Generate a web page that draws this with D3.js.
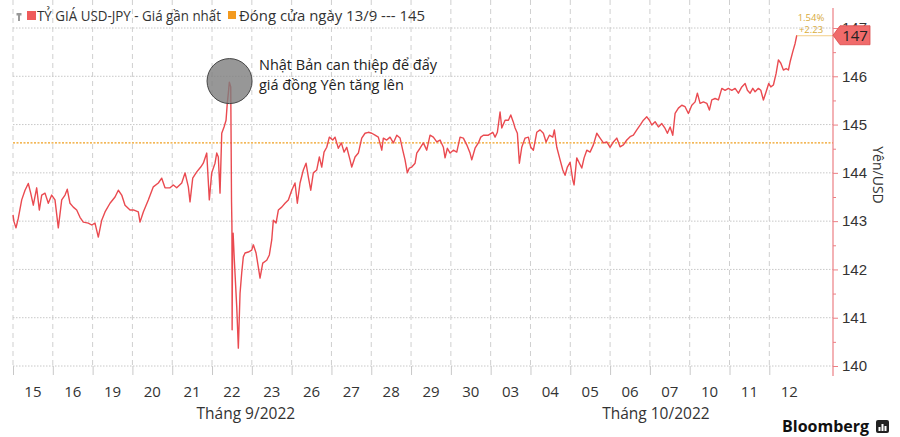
<!DOCTYPE html>
<html>
<head>
<meta charset="utf-8">
<script src="https://cdn.jsdelivr.net/npm/d3@7"></script>
<style>
    body { margin: 0; background: #fff; }
    svg { display: block; font-family: "Open Sans", "Noto Sans", sans-serif; }
    .tick text { fill: #333; }
</style>
</head>
<body>
<svg width="900" height="437"></svg>
<script>
// Trading days shown on the bottom axis (one slot each)
const dayLabels = ["15", "16", "19", "20", "21", "22", "23", "26", "27", "28", "29", "30",
                   "03", "04", "05", "06", "07", "10", "11", "12"];
const monthLabels = ["Tháng 9/2022", "Tháng 10/2022"];
const monthOfDay = [0, 0, 0, 0, 0, 0, 0, 0, 0, 0, 0, 0, 1, 1, 1, 1, 1, 1, 1, 1];

const yTicks = [140, 141, 142, 143, 144, 145, 146, 147];

// Close on 13/9 and last move
const closeSep13 = 144.62;
const lastChangePct = "1.54%";
const lastChangeAbs = "+2.23";
const lastLabel = "147";

// USD-JPY intraday: [trading-day position, price]
const usdJpy = [
    [0.000, 143.13], [0.025, 142.99], [0.075, 142.86], [0.133, 143.06], [0.219, 143.44],
    [0.302, 143.64], [0.384, 143.78], [0.445, 143.58], [0.510, 143.33], [0.595, 143.69],
    [0.661, 143.23], [0.721, 143.54], [0.804, 143.58], [0.887, 143.37], [0.972, 143.54],
    [1.055, 143.44], [1.138, 142.86], [1.224, 143.44], [1.307, 143.54], [1.364, 143.66],
    [1.432, 143.37], [1.515, 143.29], [1.600, 143.23], [1.683, 143.08], [1.766, 142.98],
    [1.892, 142.96], [1.977, 142.92], [2.060, 142.96], [2.143, 142.67], [2.229, 143.02],
    [2.312, 143.19], [2.437, 143.37], [2.563, 143.50], [2.646, 143.64], [2.731, 143.54],
    [2.814, 143.33], [2.940, 143.23], [3.040, 143.23], [3.148, 143.19], [3.191, 142.98],
    [3.274, 143.19], [3.399, 143.44], [3.525, 143.71], [3.651, 143.79], [3.736, 143.89],
    [3.819, 143.69], [3.945, 143.69], [4.028, 143.75], [4.113, 143.69], [4.239, 143.79],
    [4.322, 144.00], [4.405, 143.71], [4.447, 143.40], [4.515, 143.89], [4.616, 144.02],
    [4.716, 144.12], [4.781, 144.20], [4.867, 144.41], [4.932, 143.44], [4.992, 144.00],
    [5.075, 144.20], [5.118, 144.41], [5.158, 144.33], [5.201, 143.58], [5.244, 144.82],
    [5.302, 144.95], [5.352, 145.09], [5.384, 145.45], [5.410, 145.65], [5.435, 145.88],
    [5.470, 145.78], [5.490, 143.40], [5.500, 142.90], [5.505, 140.75], [5.515, 142.46],
    [5.530, 142.75], [5.560, 142.20], [5.621, 141.22], [5.661, 140.37], [5.704, 141.51],
    [5.746, 141.93], [5.786, 142.26], [5.829, 142.34], [5.912, 142.36], [5.997, 142.40],
    [6.038, 142.51], [6.106, 142.34], [6.163, 142.05], [6.206, 141.82], [6.274, 142.13],
    [6.374, 142.19], [6.440, 142.30], [6.500, 142.61], [6.540, 143.02], [6.608, 142.96],
    [6.666, 143.23], [6.751, 143.29], [6.834, 143.37], [6.917, 143.44], [7.003, 143.64],
    [7.085, 143.79], [7.143, 143.37], [7.211, 143.79], [7.294, 144.06], [7.362, 144.20],
    [7.420, 143.91], [7.480, 143.64], [7.545, 144.00], [7.631, 144.06], [7.696, 144.33],
    [7.756, 144.12], [7.814, 144.43], [7.882, 144.53], [7.947, 144.74], [8.033, 144.68],
    [8.090, 144.74], [8.173, 144.51], [8.249, 144.62], [8.317, 144.43], [8.384, 144.53],
    [8.467, 144.27], [8.510, 144.12], [8.593, 144.33], [8.676, 144.41], [8.761, 144.72],
    [8.844, 144.82], [8.927, 144.84], [9.013, 144.82], [9.095, 144.78], [9.178, 144.74],
    [9.264, 144.47], [9.304, 144.72], [9.389, 144.68], [9.472, 144.74], [9.555, 144.62],
    [9.641, 144.78], [9.724, 144.72], [9.791, 144.47], [9.849, 144.27], [9.907, 144.00],
    [9.957, 144.10], [10.018, 144.12], [10.101, 144.20], [10.143, 144.41], [10.226, 144.51],
    [10.309, 144.62], [10.394, 144.47], [10.477, 144.78], [10.560, 144.74], [10.646, 144.64],
    [10.729, 144.68], [10.812, 144.53], [10.854, 144.31], [10.912, 144.51], [10.980, 144.41],
    [11.063, 144.47], [11.148, 144.43], [11.231, 144.74], [11.314, 144.72], [11.399, 144.58],
    [11.482, 144.41], [11.525, 144.27], [11.608, 144.51], [11.691, 144.62], [11.751, 144.74],
    [11.817, 144.78], [11.942, 144.78], [12.053, 144.84], [12.111, 144.74], [12.168, 144.84],
    [12.236, 145.26], [12.279, 144.93], [12.362, 145.09], [12.445, 145.09], [12.505, 145.20],
    [12.570, 145.05], [12.613, 144.93], [12.671, 144.82], [12.721, 144.20], [12.781, 144.53],
    [12.864, 144.72], [12.947, 144.74], [13.008, 144.53], [13.073, 144.47], [13.158, 144.84],
    [13.241, 144.89], [13.324, 144.82], [13.392, 144.64], [13.475, 144.78], [13.560, 144.74],
    [13.600, 144.89], [13.661, 144.53], [13.744, 144.27], [13.812, 144.06], [13.869, 143.95],
    [13.927, 144.12], [13.995, 144.22], [14.063, 143.85], [14.095, 143.75], [14.163, 144.31],
    [14.229, 144.20], [14.289, 144.10], [14.347, 144.31], [14.415, 144.47], [14.497, 144.43],
    [14.580, 144.58], [14.666, 144.82], [14.749, 144.72], [14.832, 144.62], [14.917, 144.64],
    [15.000, 144.53], [15.083, 144.64], [15.168, 144.72], [15.251, 144.54], [15.334, 144.58],
    [15.420, 144.68], [15.503, 144.75], [15.585, 144.78], [15.671, 144.89], [15.754, 144.99],
    [15.837, 145.09], [15.922, 145.16], [15.987, 145.09], [16.048, 144.99], [16.131, 145.06],
    [16.214, 144.95], [16.299, 145.02], [16.382, 144.92], [16.440, 144.82], [16.508, 144.95],
    [16.575, 144.78], [16.633, 145.23], [16.716, 145.34], [16.801, 145.40], [16.884, 145.37],
    [16.967, 145.23], [17.053, 145.40], [17.136, 145.47], [17.193, 145.65], [17.261, 145.44],
    [17.344, 145.47], [17.430, 145.44], [17.495, 145.30], [17.555, 145.51], [17.638, 145.54],
    [17.721, 145.51], [17.807, 145.75], [17.889, 145.71], [17.972, 145.75], [18.058, 145.71],
    [18.141, 145.75], [18.224, 145.65], [18.309, 145.78], [18.392, 145.85], [18.450, 145.71],
    [18.518, 145.65], [18.585, 145.75], [18.643, 145.68], [18.726, 145.75], [18.786, 145.71],
    [18.852, 145.51], [18.920, 145.68], [18.985, 145.85], [19.038, 145.78], [19.103, 145.82],
    [19.171, 146.06], [19.229, 146.34], [19.289, 146.27], [19.354, 146.13], [19.422, 146.16],
    [19.480, 146.13], [19.523, 146.30], [19.590, 146.51], [19.648, 146.68], [19.691, 146.85]
];

const svg = d3.select("svg");
const axisX = 833;

const x = d3.scaleLinear().domain([0, 20.6]).range([13, axisX]);
const y = d3.scaleLinear().domain([140, 147]).range([366, 28]);

// Vertical dashed grid at day boundaries
svg.append("g")
    .attr("stroke", "#cfcfcf")
    .attr("stroke-dasharray", "5,4")
    .selectAll("line")
    .data(d3.range(dayLabels.length))
    .join("line")
    .attr("x1", d => x(d))
    .attr("x2", d => x(d))
    .attr("y1", 0)
    .attr("y2", y(140));

// Horizontal dotted grid
svg.append("g")
    .attr("stroke", "#c8c8c8")
    .attr("stroke-dasharray", "1.5,1.5")
    .selectAll("line")
    .data(yTicks)
    .join("line")
    .attr("x1", x(0))
    .attr("x2", axisX)
    .attr("y1", d => y(d))
    .attr("y2", d => y(d));

// Bottom axis: boundary ticks + day labels
const gx = svg.append("g")
    .attr("transform", `translate(0,${y(140)})`)
    .call(d3.axisBottom(x).tickValues(d3.range(dayLabels.length)).tickSize(9).tickFormat(""));
gx.select(".domain").remove();
gx.selectAll(".tick line").attr("stroke", "#c8c8c8");

svg.append("g")
    .selectAll("text")
    .data(dayLabels)
    .join("text")
    .attr("x", (d, i) => x(i + 0.5))
    .attr("y", 397)
    .attr("text-anchor", "middle")
    .style("font-size", "15px")
    .style("fill", "#333")
    .text(d => d);

// Month labels centred under their days
monthLabels.forEach((label, m) => {
    const idx = d3.range(dayLabels.length).filter(i => monthOfDay[i] === m);
    const cx = (x(d3.min(idx) + 0.5) + x(d3.max(idx) + 0.5)) / 2;
    svg.append("text")
        .attr("x", cx + (m === 0 ? -6 : 6))
        .attr("y", 419)
        .attr("text-anchor", "middle")
        .style("font-size", "15.5px")
        .style("fill", "#333")
        .text(label);
});

// Close line 13/9
svg.append("line")
    .attr("x1", x(0))
    .attr("x2", axisX)
    .attr("y1", y(closeSep13))
    .attr("y2", y(closeSep13))
    .attr("stroke", "#f0a020")
    .attr("stroke-width", 1.3)
    .attr("stroke-dasharray", "2,1.5");

// Price line
svg.append("path")
    .datum(usdJpy)
    .attr("fill", "none")
    .attr("stroke", "#ea4a50")
    .attr("stroke-width", 1.4)
    .attr("stroke-linejoin", "round")
    .attr("d", d3.line().x(d => x(d[0])).y(d => y(d[1])));

const last = usdJpy[usdJpy.length - 1];

// Level line from last point to axis
svg.append("line")
    .attr("x1", x(last[0]))
    .attr("x2", axisX)
    .attr("y1", y(last[1]) + 0.5)
    .attr("y2", y(last[1]) + 0.5)
    .attr("stroke", "#f3cf8a")
    .attr("stroke-width", 1);

svg.append("text")
    .attr("x", 811)
    .attr("y", 21)
    .attr("text-anchor", "middle")
    .style("font-size", "9.5px")
    .style("fill", "#d8ab3c")
    .text(lastChangePct);

svg.append("text")
    .attr("x", 811)
    .attr("y", 33)
    .attr("text-anchor", "middle")
    .style("font-size", "9.5px")
    .style("fill", "#d8ab3c")
    .text(lastChangeAbs);

// Right axis
svg.append("line")
    .attr("x1", axisX).attr("x2", axisX)
    .attr("y1", 8).attr("y2", 376)
    .attr("stroke", "#ec7f84")
    .attr("stroke-width", 1.2);

const gy = svg.append("g")
    .attr("transform", `translate(${axisX},0)`)
    .call(d3.axisRight(y).tickValues(yTicks).tickSize(5).tickPadding(4).tickFormat(d3.format("d")));
gy.select(".domain").remove();
gy.selectAll(".tick line").attr("stroke", "#ec7f84");
gy.selectAll(".tick text").style("font-size", "15px").style("fill", "#333");

const gyMinor = svg.append("g")
    .attr("transform", `translate(${axisX},0)`)
    .call(d3.axisRight(y).tickValues(yTicks.slice(0, -1).map(v => v + 0.5)).tickSize(3).tickFormat(""));
gyMinor.select(".domain").remove();
gyMinor.selectAll(".tick line").attr("stroke", "#ec7f84");

// Last price tag
const ty = y(last[1]);
svg.append("path")
    .attr("d", `M${axisX},${ty} L${axisX + 7},${ty - 9.5} L${axisX + 37},${ty - 9.5} L${axisX + 37},${ty + 9.5} L${axisX + 7},${ty + 9.5} Z`)
    .attr("fill", "#f06b6b")
    .attr("stroke", "#d94a4a")
    .attr("stroke-width", 0.8);

svg.append("text")
    .attr("x", axisX + 22)
    .attr("y", ty + 5.5)
    .attr("text-anchor", "middle")
    .style("font-size", "15px")
    .style("fill", "#222")
    .text(lastLabel);

// Axis title
svg.append("text")
    .attr("transform", "translate(873,175) rotate(90)")
    .attr("text-anchor", "middle")
    .style("font-size", "14px")
    .style("fill", "#333")
    .text("Yên/USD");

// Annotation circle round the intervention peak
svg.append("circle")
    .attr("cx", x(5.44))
    .attr("cy", y(145.88) - 1)
    .attr("r", 22.5)
    .attr("fill", "#7d7d7d")
    .attr("fill-opacity", 0.8)
    .attr("stroke", "#444")
    .attr("stroke-width", 1);

svg.append("text")
    .attr("x", 259)
    .attr("y", 70)
    .style("font-size", "14.5px")
    .style("fill", "#222")
    .text("Nhật Bản can thiệp để đẩy");

svg.append("text")
    .attr("x", 259)
    .attr("y", 90)
    .style("font-size", "14.5px")
    .style("fill", "#222")
    .text("giá đồng Yên tăng lên");

// Legend
const legend = svg.append("g");
legend.append("rect").attr("x", 18).attr("y", 15).attr("width", 2).attr("height", 6).attr("fill", "#999");
legend.append("rect").attr("x", 16.5).attr("y", 13).attr("width", 5).attr("height", 2.5).attr("fill", "#999");
legend.append("rect").attr("x", 27).attr("y", 11).attr("width", 9).attr("height", 9).attr("fill", "#ef5b5b");
legend.append("text")
    .attr("x", 37)
    .attr("y", 20.5)
    .attr("textLength", 184)
    .attr("lengthAdjust", "spacingAndGlyphs")
    .style("font-size", "14px")
    .style("fill", "#333")
    .text("TỶ GIÁ USD-JPY - Giá gần nhất");
legend.append("rect").attr("x", 228).attr("y", 11).attr("width", 8).attr("height", 8).attr("fill", "#f39a1e");
legend.append("text")
    .attr("x", 239)
    .attr("y", 20.5)
    .attr("textLength", 186)
    .attr("lengthAdjust", "spacingAndGlyphs")
    .style("font-size", "14px")
    .style("fill", "#333")
    .text("Đóng cửa ngày 13/9 --- 145");

// Bloomberg mark
svg.append("text")
    .attr("x", 782)
    .attr("y", 432)
    .style("font-size", "16px")
    .style("font-weight", "bold")
    .style("fill", "#111")
    .text("Bloomberg");

svg.append("rect")
    .attr("x", 876).attr("y", 420).attr("width", 13).attr("height", 13).attr("rx", 2)
    .attr("fill", "#222");
svg.append("g")
    .attr("fill", "#fff")
    .selectAll("rect")
    .data([4, 7, 5])
    .join("rect")
    .attr("x", (d, i) => 878.5 + i * 3)
    .attr("y", d => 431 - d)
    .attr("width", 2)
    .attr("height", d => d);
</script>
</body>
</html>
